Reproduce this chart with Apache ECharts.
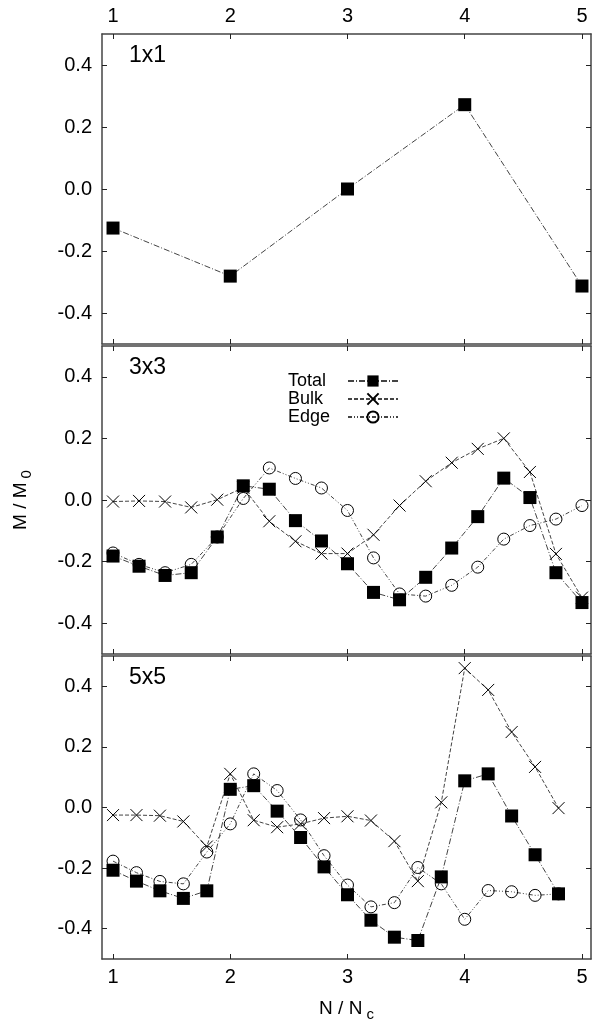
<!DOCTYPE html>
<html>
<head>
<meta charset="utf-8">
<script src="https://cdn.jsdelivr.net/npm/echarts@6/dist/echarts.min.js"></script>
<style>
  html, body { margin: 0; padding: 0; background: #fff; }
  #chart { width: 592px; height: 1023px; }
</style>
</head>
<body>
<div id="chart"></div>
<script>
// panel 1x1
const xs1 = [1, 2, 3, 4, 5];
const total1 = [-0.126, -0.281, 0.0, 0.272, -0.313];

// panel 3x3
const xs3 = [1, 1.222, 1.444, 1.667, 1.889, 2.111, 2.333, 2.556, 2.778, 3,
  3.222, 3.444, 3.667, 3.889, 4.111, 4.333, 4.556, 4.778, 5];
const total3 = [-0.182, -0.215, -0.245, -0.236, -0.12, 0.046, 0.035, -0.067, -0.133, -0.207,
  -0.30, -0.324, -0.251, -0.156, -0.054, 0.071, 0.008, -0.236, -0.333];
const bulk3 = [-0.005, -0.003, -0.005, -0.024, 0.001, 0.04, -0.069, -0.134, -0.174, -0.174,
  -0.113, -0.018, 0.061, 0.121, 0.166, 0.20, 0.091, -0.175, -0.317];
const edge3 = [-0.172, -0.209, -0.236, -0.209, -0.12, 0.005, 0.104, 0.07, 0.039, -0.034,
  -0.188, -0.305, -0.312, -0.277, -0.218, -0.127, -0.083, -0.062, -0.018];

// panel 5x5
const xs5 = [1, 1.2, 1.4, 1.6, 1.8, 2, 2.2, 2.4, 2.6, 2.8,
  3, 3.2, 3.4, 3.6, 3.8, 4, 4.2, 4.4, 4.6, 4.8];
const total5 = [-0.207, -0.243, -0.275, -0.30, -0.275, 0.060, 0.072, -0.012, -0.099, -0.196,
  -0.288, -0.372, -0.428, -0.439, -0.229, 0.088, 0.111, -0.028, -0.156, -0.285];
const bulk5 = [-0.025, -0.025, -0.027, -0.046, -0.129, 0.111, -0.042, -0.065, -0.054, -0.035,
  -0.029, -0.043, -0.111, -0.243, 0.017, 0.46, 0.388, 0.249, 0.134, -0.002];
const edge5 = [-0.177, -0.215, -0.244, -0.252, -0.147, -0.054, 0.111, 0.056, -0.041, -0.159,
  -0.256, -0.328, -0.314, -0.198, -0.252, -0.369, -0.274, -0.278, -0.29, -0.285];

const xTicks = [1, 2, 3, 4, 5];
const yTicks = [-0.4, -0.2, 0, 0.2, 0.4];
const panelNames = ['1x1', '3x3', '5x5'];

const FONT = 'Liberation Sans, Arial, sans-serif';
const X_MIN = 0.906, X_MAX = 5.077;
const grids = [
  {left: 102, width: 489, top: 34, height: 310},
  {left: 102, width: 489, top: 346, height: 308},
  {left: 102, width: 489, top: 656, height: 308}
];

const zip = (xs, ys) => xs.map((x, i) => [x, ys[i]]);

function xAx(g, pos, showLabel, extra) {
  return Object.assign({
    type: 'value', gridIndex: g, position: pos, min: X_MIN, max: X_MAX,
    axisLine: {show: true, onZero: false, lineStyle: {color: '#444', width: 1.5}},
    axisTick: {show: true, inside: true, length: 5, customValues: xTicks, lineStyle: {color: '#222'}},
    axisLabel: {show: showLabel, customValues: xTicks, fontSize: 20, color: '#000', margin: 8, fontFamily: FONT},
    splitLine: {show: false}
  }, extra || {});
}
function yAx(g, pos, showLabel, extra) {
  return Object.assign({
    type: 'value', gridIndex: g, position: pos, min: -0.5, max: 0.5,
    axisLine: {show: true, onZero: false, lineStyle: {color: '#444', width: 1.5}},
    axisTick: {show: true, inside: true, length: 5, customValues: yTicks, lineStyle: {color: '#222'}},
    axisLabel: {show: showLabel, customValues: yTicks, fontSize: 20, color: '#000', margin: 10, fontFamily: FONT,
      formatter: v => v.toFixed(1)},
    splitLine: {show: false}
  }, extra || {});
}

const xAxes = [], yAxes = [];
for (let g = 0; g < 3; g++) {
  xAxes.push(xAx(g, 'bottom', g === 2, g === 2 ? {
    name: 'N / N{sub|c}', nameLocation: 'middle', nameGap: 36,
    nameTextStyle: {fontSize: 19, color: '#000', fontFamily: FONT,
      rich: {sub: {fontSize: 15, verticalAlign: 'bottom', padding: [12, 0, 0, 4]}}}
  } : null));
  xAxes.push(xAx(g, 'top', g === 0));
  yAxes.push(yAx(g, 'left', true, g === 1 ? {
    name: 'M / M{sub|0}', nameLocation: 'middle', nameGap: 68, nameRotate: 90,
    nameTextStyle: {fontSize: 19, color: '#000', fontFamily: FONT,
      rich: {sub: {fontSize: 15, verticalAlign: 'bottom', padding: [12, 0, 0, 4]}}}
  } : null));
  yAxes.push(yAx(g, 'right', false));
}

const lineCol = '#444';
function totalS(g, data) {
  return {name: 'Total', type: 'line', xAxisIndex: 2 * g, yAxisIndex: 2 * g, data: data,
    symbol: 'rect', symbolSize: 13,
    itemStyle: {color: '#000'},
    lineStyle: {color: lineCol, width: 1, type: [6, 2, 1, 2]}};
}
function bulkS(g, data) {
  return {name: 'Bulk', type: 'line', xAxisIndex: 2 * g, yAxisIndex: 2 * g, data: data,
    symbol: 'path://M0,0L10,10M10,0L0,10', symbolSize: 12,
    itemStyle: {color: 'transparent', borderColor: '#000', borderWidth: 1},
    lineStyle: {color: lineCol, width: 1, type: [4, 2]}};
}
function edgeS(g, data) {
  return {name: 'Edge', type: 'line', xAxisIndex: 2 * g, yAxisIndex: 2 * g, data: data,
    symbol: 'circle', symbolSize: 12,
    itemStyle: {color: 'transparent', borderColor: '#000', borderWidth: 1},
    lineStyle: {color: lineCol, width: 1, type: [4, 2, 1, 2, 1, 2]}};
}

const series = [
  totalS(0, zip(xs1, total1)),
  totalS(1, zip(xs3, total3)), bulkS(1, zip(xs3, bulk3)), edgeS(1, zip(xs3, edge3)),
  totalS(2, zip(xs5, total5)), bulkS(2, zip(xs5, bulk5)), edgeS(2, zip(xs5, edge5))
];

const option = {
  animation: false,
  backgroundColor: '#fff',
  grid: grids,
  xAxis: xAxes,
  yAxis: yAxes,
  legend: {
    data: ['Total', 'Bulk', 'Edge'],
    orient: 'vertical', left: 283, top: 367, align: 'right',
    itemWidth: 50, itemHeight: 14, itemGap: 0, selectedMode: false,
    formatter: '{t|{name}}',
    textStyle: {fontSize: 18, fontFamily: FONT, color: '#000', lineHeight: 17,
      rich: {t: {width: 55, align: 'left', fontSize: 18, lineHeight: 17, fontFamily: FONT, color: '#000'}}}
  },
  graphic: grids.map((gr, i) => ({
    type: 'text', left: 129, top: gr.top + 10,
    style: {text: panelNames[i], font: '23px ' + FONT, fill: '#000'}
  })),
  series: series
};

const chart = echarts.init(document.getElementById('chart'));
chart.setOption(option);
</script>
</body>
</html>
